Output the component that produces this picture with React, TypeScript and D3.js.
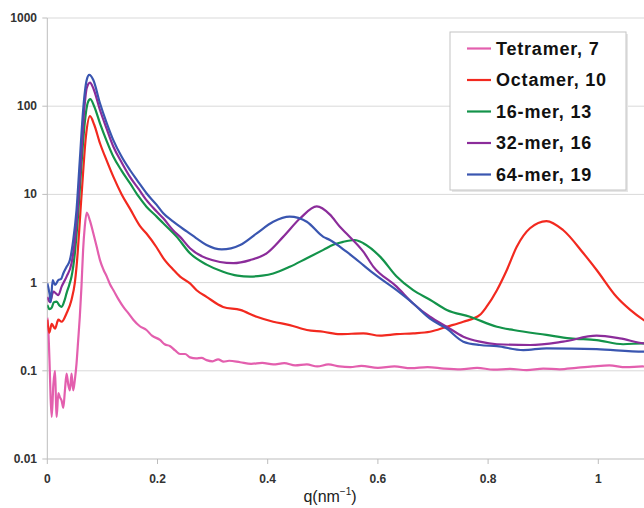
import React from "react";
import * as d3 from "d3";

type P = [number, number];

const seriesNames = ["Tetramer, 7", "Octamer, 10", "16-mer, 13", "32-mer, 16", "64-mer, 19"];
const seriesColors = ["#e35fae", "#f2291f", "#13934a", "#8b2c9a", "#3a56b0"];

const tetramer: P[] = [
  [0, 0.4], [0.0018, 0.29], [0.004, 0.13], [0.006, 0.05], [0.008, 0.03], [0.011, 0.07], [0.014, 0.1],
  [0.016, 0.04], [0.017, 0.03], [0.02, 0.056], [0.023, 0.05], [0.026, 0.046], [0.029, 0.038], [0.032, 0.06],
  [0.035, 0.093], [0.038, 0.07], [0.041, 0.06], [0.044, 0.093], [0.047, 0.06], [0.05, 0.079], [0.053, 0.12],
  [0.056, 0.22], [0.059, 0.41], [0.062, 0.9], [0.065, 2.35], [0.068, 4.3], [0.0715, 6.2], [0.0775, 5.0],
  [0.0835, 3.62], [0.09, 2.5], [0.0956, 1.8], [0.102, 1.4], [0.108, 1.17], [0.114, 0.95], [0.12, 0.82],
  [0.129, 0.65], [0.138, 0.53], [0.147, 0.45], [0.156, 0.38], [0.168, 0.32], [0.18, 0.29], [0.19, 0.25],
  [0.2045, 0.224], [0.213, 0.2], [0.223, 0.19], [0.232, 0.17], [0.241, 0.155], [0.25, 0.155], [0.259, 0.142],
  [0.27, 0.138], [0.28, 0.14], [0.289, 0.132], [0.3, 0.128], [0.31, 0.135], [0.32, 0.127], [0.33, 0.13],
  [0.35, 0.125], [0.37, 0.12], [0.39, 0.123], [0.41, 0.118], [0.43, 0.122], [0.45, 0.115], [0.471, 0.118],
  [0.49, 0.112], [0.51, 0.118], [0.53, 0.112], [0.55, 0.11], [0.57, 0.114], [0.6, 0.108], [0.63, 0.112],
  [0.66, 0.107], [0.69, 0.11], [0.72, 0.106], [0.75, 0.104], [0.78, 0.108], [0.81, 0.103], [0.84, 0.105],
  [0.87, 0.102], [0.9, 0.106], [0.93, 0.104], [0.96, 0.108], [0.99, 0.112], [1.02, 0.115], [1.05, 0.11],
  [1.08, 0.112], [1.1, 0.11],
];

const octamer: P[] = [
  [0, 0.38], [0.0036, 0.27], [0.008, 0.34], [0.014, 0.3], [0.02, 0.38], [0.026, 0.36], [0.035, 0.45],
  [0.044, 0.64], [0.05, 1.0], [0.053, 1.5], [0.0624, 10.3], [0.07, 45], [0.0775, 77], [0.085, 62],
  [0.0956, 38], [0.108, 24], [0.12, 15.8], [0.135, 10], [0.15, 6.9], [0.168, 4.4], [0.18, 3.6],
  [0.1985, 2.5], [0.2105, 1.9], [0.2287, 1.4], [0.241, 1.17], [0.259, 0.98], [0.271, 0.82], [0.289, 0.69],
  [0.319, 0.53], [0.35, 0.49], [0.38, 0.41], [0.41, 0.36], [0.44, 0.33], [0.471, 0.29], [0.501, 0.277],
  [0.531, 0.26], [0.5735, 0.266], [0.604, 0.25], [0.634, 0.26], [0.664, 0.266], [0.6945, 0.277],
  [0.725, 0.316], [0.755, 0.36], [0.785, 0.43], [0.797, 0.53], [0.816, 0.82], [0.834, 1.39], [0.852, 2.55],
  [0.876, 4.13], [0.906, 4.99], [0.936, 3.95], [0.973, 2.15], [0.997, 1.39], [1.033, 0.69], [1.058, 0.49],
  [1.082, 0.377], [1.1, 0.32],
];

const mer16: P[] = [
  [0, 0.56], [0.004, 0.5], [0.008, 0.52], [0.012, 0.6], [0.017, 0.61], [0.022, 0.55], [0.026, 0.53],
  [0.031, 0.62], [0.035, 0.76], [0.04, 0.95], [0.044, 1.17], [0.05, 2.15], [0.056, 6], [0.062, 22],
  [0.068, 65], [0.0735, 110], [0.078, 120], [0.085, 100], [0.0956, 64], [0.108, 40], [0.12, 26.7],
  [0.135, 18.5], [0.15, 13.4], [0.165, 9.6], [0.18, 7.26], [0.1985, 5.6], [0.2105, 4.7], [0.235, 3.3],
  [0.259, 2.15], [0.289, 1.6], [0.319, 1.33], [0.345, 1.2], [0.368, 1.17], [0.39, 1.2], [0.41, 1.27],
  [0.44, 1.51], [0.471, 1.89], [0.501, 2.35], [0.52, 2.7], [0.537, 2.9], [0.558, 3.04], [0.5735, 2.8],
  [0.604, 1.97], [0.634, 1.17], [0.664, 0.82], [0.6945, 0.64], [0.725, 0.49], [0.767, 0.41], [0.816, 0.316],
  [0.846, 0.29], [0.906, 0.255], [0.949, 0.233], [0.997, 0.223], [1.045, 0.2], [1.082, 0.205], [1.1, 0.2],
];

const mer32: P[] = [
  [0, 0.69], [0.005, 0.6], [0.011, 0.79], [0.016, 0.75], [0.02, 0.72], [0.026, 0.9], [0.035, 1.17],
  [0.044, 1.66], [0.05, 3.0], [0.056, 8], [0.062, 30], [0.067, 90], [0.0715, 160], [0.0775, 185],
  [0.0835, 160], [0.0956, 90.6], [0.108, 55], [0.12, 34.7], [0.135, 23], [0.15, 15.8], [0.165, 11.7],
  [0.18, 8.6], [0.1985, 6.4], [0.2105, 5.36], [0.2287, 3.9], [0.241, 3.3], [0.259, 2.45], [0.289, 1.89],
  [0.3376, 1.66], [0.368, 1.8], [0.398, 2.15], [0.428, 3.3], [0.459, 5.36], [0.489, 7.3], [0.513, 5.9],
  [0.531, 4.3], [0.543, 3.6], [0.5735, 2.24], [0.592, 1.51], [0.634, 0.9], [0.664, 0.58], [0.6945, 0.41],
  [0.725, 0.316], [0.755, 0.244], [0.785, 0.214], [0.816, 0.2], [0.876, 0.196], [0.936, 0.214], [0.997, 0.25],
  [1.039, 0.233], [1.082, 0.205], [1.1, 0.2],
];

const mer64: P[] = [
  [0, 0.98], [0.004, 0.75], [0.0062, 0.6], [0.0098, 1.07], [0.014, 0.94], [0.02, 1.07], [0.025, 1.1],
  [0.029, 1.27], [0.035, 1.51], [0.041, 1.8], [0.047, 3.0], [0.053, 6.6], [0.059, 24.5], [0.065, 90],
  [0.0715, 198], [0.0762, 226], [0.0835, 198], [0.0956, 108], [0.108, 64], [0.12, 41], [0.135, 26.7],
  [0.15, 18.9], [0.165, 13.9], [0.18, 10.3], [0.1985, 7.6], [0.2105, 6.1], [0.2287, 4.9], [0.253, 3.8],
  [0.27, 3.2], [0.289, 2.67], [0.3165, 2.38], [0.35, 2.67], [0.38, 3.62], [0.41, 4.9], [0.44, 5.6],
  [0.471, 4.9], [0.501, 3.3], [0.513, 3.04], [0.543, 2.24], [0.5735, 1.58], [0.592, 1.27], [0.634, 0.82],
  [0.664, 0.58], [0.6945, 0.39], [0.725, 0.3], [0.755, 0.214], [0.785, 0.196], [0.816, 0.19], [0.864, 0.172],
  [0.906, 0.18], [0.997, 0.176], [1.082, 0.165], [1.1, 0.165],
];

const seriesData: P[][] = [tetramer, octamer, mer16, mer32, mer64];

const xTicks = [0, 0.2, 0.4, 0.6, 0.8, 1];
const xTickLabels = ["0", "0.2", "0.4", "0.6", "0.8", "1"];
const yTicks = [0.01, 0.1, 1, 10, 100, 1000];
const yTickLabels = ["0.01", "0.1", "1", "10", "100", "1000"];

const W = 644;
const H = 508;
const x0 = 47.3;
const pxPerUnit = 551;

export default function App() {
  const x = d3.scaleLinear().domain([0, 1.2]).range([x0, x0 + 1.2 * pxPerUnit]);
  const y = d3.scaleLog().domain([0.01, 1000]).range([459, 18]);
  const line = d3
    .line<P>()
    .x((d) => x(d[0]))
    .y((d) => y(d[1]))
    .curve(d3.curveMonotoneX);

  const font = "'Liberation Sans', Arial, sans-serif";
  const legendX = 450;
  const legendY = 32;
  const rowY = (i: number) => 48.5 + i * 31.5;

  return (
    <svg
      width={W}
      height={H}
      style={{ position: "absolute", left: 0, top: 0, background: "#fff" }}
      fontFamily={font}
    >
      <defs>
        <clipPath id="plotclip">
          <rect x={x0} y={0} width={W - x0} height={460} />
        </clipPath>
      </defs>
      {yTicks.slice(1).map((t) => (
        <line key={t} x1={x0} x2={W} y1={y(t)} y2={y(t)} stroke="#d9d9d9" strokeWidth={1} />
      ))}
      <line x1={x0} x2={x0} y1={y(1000)} y2={y(0.01)} stroke="#bdbdbd" strokeWidth={1} />
      <line x1={x0} x2={W} y1={y(0.01)} y2={y(0.01)} stroke="#bdbdbd" strokeWidth={1} />
      {yTicks.map((t, i) => (
        <g key={t}>
          <line x1={x0 - 5} x2={x0} y1={y(t)} y2={y(t)} stroke="#bdbdbd" />
          <text
            x={37}
            y={y(t)}
            textAnchor="end"
            dominantBaseline="central"
            fontSize={12}
            fontWeight="bold"
            fill="#333"
          >
            {yTickLabels[i]}
          </text>
        </g>
      ))}
      {xTicks.map((t, i) => (
        <g key={t}>
          <line x1={x(t)} x2={x(t)} y1={y(0.01)} y2={y(0.01) + 5} stroke="#bdbdbd" />
          <text
            x={x(t)}
            y={479}
            textAnchor="middle"
            dominantBaseline="central"
            fontSize={12}
            fontWeight="bold"
            fill="#333"
          >
            {xTickLabels[i]}
          </text>
        </g>
      ))}
      <text x={330} y={502} textAnchor="middle" fontSize={16} fill="#222">
        q(nm
        <tspan fontSize={10} dy={-7}>
          −1
        </tspan>
        <tspan dy={7}>)</tspan>
      </text>
      <g clipPath="url(#plotclip)">
        {seriesData.map((d, i) => (
          <path
            key={i}
            d={line(d) || ""}
            fill="none"
            stroke={seriesColors[i]}
            strokeWidth={2.2}
            strokeLinejoin="round"
          />
        ))}
      </g>
      <rect x={legendX + 2} y={legendY + 2} width={176} height={158} fill="#e6e6e6" />
      <rect x={legendX} y={legendY} width={176} height={158} fill="#fff" stroke="#c4c4c4" strokeWidth={1} />
      {seriesNames.map((n, i) => (
        <g key={n}>
          <line x1={467} x2={491} y1={rowY(i)} y2={rowY(i)} stroke={seriesColors[i]} strokeWidth={2.2} />
          <text
            x={496}
            y={rowY(i)}
            dominantBaseline="central"
            fontSize={18}
            fontWeight="bold"
            letterSpacing={0.8}
            fill="#111"
          >
            {n}
          </text>
        </g>
      ))}
    </svg>
  );
}
